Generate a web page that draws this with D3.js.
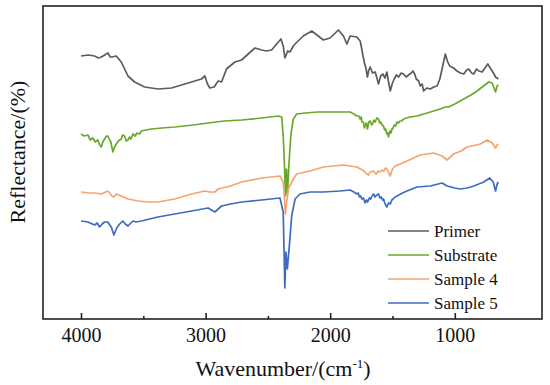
<!DOCTYPE html>
<html>
<head>
    <script src="https://d3js.org/d3.v7.min.js"></script>
    <style>
        body { margin: 0; background: #fff; }
        text { font-family: "Liberation Serif", "Times New Roman", serif; fill: #111; }
    </style>
</head>
<body>
    <svg width="550" height="385"></svg>
    <script>
        // series: [wavenumber (cm-1), reflectance (arbitrary, offset for display)]
        const primer = [[4000,263],[3940,264],[3891,263],[3860,261],[3837,262],[3810,264],[3784,266],[3765,262],[3752,262],[3717,263],
            [3677,257],[3623,243],[3570,237],[3489,232],[3382,230],[3274,231],[3167,235],[3087,238],[3033,240],[3006,243],
            [2985,235],[2966,231],[2932,232],[2899,238],[2872,237],[2832,250],[2765,257],[2711,259],[2658,265],[2604,271],
            [2550,269],[2510,268],[2470,269],[2430,275],[2395,280],[2377,273],[2363,261],[2341,268],[2323,267],[2296,273],
            [2282,275],[2216,283],[2148,288],[2055,279],[2001,281],[1934,289],[1894,283],[1866,275],[1840,283],[1786,282],
            [1759,278],[1727,257],[1712,250],[1701,242],[1690,249],[1679,252],[1660,246],[1639,247],[1625,241],[1612,235],
            [1595,243],[1577,245],[1560,241],[1545,247],[1530,236],[1518,228],[1500,236],[1486,240],[1470,244],[1451,242],
            [1430,246],[1411,245],[1390,242],[1371,244],[1350,246],[1336,248],[1322,245],[1309,240],[1290,238],[1277,233],
            [1262,235],[1250,228],[1225,231],[1196,230],[1170,232],[1142,233],[1120,240],[1102,250],[1076,265],[1060,258],
            [1041,253],[1010,251],[982,248],[955,246],[928,245],[905,249],[888,250],[865,246],[848,245],[825,250],[808,248],
            [780,247],[758,251],[735,255],[715,251],[700,248],[685,245],[673,242],[650,240]];

        const substrate = [[4000,185],[3975,183],[3945,184],[3925,179],[3905,181],[3885,177],[3865,179],[3850,174],[3837,172],[3825,177],
            [3811,180],[3795,183],[3784,183],[3770,179],[3763,178],[3752,172],[3744,167],[3730,172],[3717,175],[3700,178],
            [3677,180],[3665,184],[3650,183],[3637,178],[3623,179],[3610,182],[3600,180],[3583,185],[3565,183],[3550,186],
            [3530,185],[3516,188],[3480,189],[3435,190],[3350,191],[3248,192],[3100,194],[2980,196],[2850,198],[2711,199],
            [2550,201],[2417,203],[2389,202],[2377,183],[2367,155],[2359,123],[2351,150],[2343,125],[2331,155],[2315,185],
            [2296,200],[2269,205],[2200,206],[2100,207],[2000,207],[1900,207],[1840,207],[1810,205],[1786,203],[1770,203],
            [1760,200],[1752,202],[1745,197],[1733,197],[1726,191],[1720,193],[1710,196],[1701,190],[1695,194],[1690,197],
            [1679,198],[1668,194],[1660,195],[1650,199],[1639,197],[1625,201],[1612,200],[1603,196],[1595,197],[1583,194],
            [1572,193],[1563,189],[1555,190],[1545,185],[1540,186],[1532,182],[1526,186],[1520,188],[1512,186],[1504,190],
            [1495,191],[1485,194],[1475,193],[1464,197],[1452,196],[1440,198],[1425,198],[1411,200],[1360,202],[1303,203],
            [1250,205],[1196,207],[1116,210],[1076,212],[1049,212],[1000,215],[928,220],[870,224],[821,228],[770,233],
            [727,237],[700,236],[673,227],[660,233],[650,234]];

        const sample4 = [[4000,127],[3940,126],[3891,126],[3837,125],[3784,128],[3752,123],[3736,122],[3717,125],[3677,123],[3623,120],
            [3543,118],[3460,117],[3382,117],[3248,120],[3113,125],[3006,128],[2966,127],[2926,127],[2899,130],[2800,133],
            [2711,137],[2550,141],[2403,143],[2377,137],[2367,120],[2359,105],[2351,115],[2336,130],[2296,140],[2269,145],
            [2162,148],[2055,152],[1894,154],[1786,152],[1740,149],[1719,147],[1705,145],[1693,144],[1682,147],[1672,147],
            [1652,148],[1640,146],[1630,145],[1615,148],[1599,147],[1585,149],[1570,148],[1555,151],[1545,150],[1530,146],
            [1518,143],[1500,150],[1478,153],[1438,155],[1384,158],[1330,161],[1277,164],[1170,166],[1102,163],[1062,159],
            [1009,165],[950,168],[901,172],[794,175],[740,179],[700,176],[673,171],[660,174],[650,175]];

        const sample5 = [[4000,98],[3945,97],[3891,94],[3870,96],[3851,92],[3830,95],[3811,97],[3784,97],[3770,94],[3757,92],
            [3736,84],[3720,89],[3709,92],[3690,95],[3664,98],[3645,95],[3623,93],[3600,96],[3583,98],[3560,97],
            [3516,98],[3450,100],[3382,102],[3248,105],[3113,108],[2980,111],[2926,107],[2872,113],[2800,115],[2711,117],
            [2550,119],[2403,121],[2377,107],[2364,31],[2355,67],[2344,50],[2328,73],[2309,103],[2282,120],[2242,125],
            [2162,127],[2055,127],[1920,128],[1840,129],[1810,127],[1786,125],[1775,126],[1765,122],[1755,123],[1746,120],
            [1733,121],[1720,116],[1710,119],[1701,117],[1685,121],[1675,120],[1665,123],[1652,125],[1640,122],[1625,124],
            [1612,125],[1600,121],[1590,122],[1580,119],[1572,120],[1562,116],[1555,114],[1545,112],[1532,116],[1518,115],
            [1505,119],[1495,120],[1480,122],[1464,123],[1420,126],[1384,128],[1303,132],[1196,133],[1102,136],[1062,133],
            [1000,131],[955,130],[900,131],[848,133],[767,137],[719,141],[692,137],[673,128],[660,135],[650,137]];

        const seriesNames = ["Primer", "Substrate", "Sample 4", "Sample 5"];
        const seriesColors = ["#5c5c5c", "#6aa82c", "#f5a46e", "#3d6cc0"];
        const majorTicks = [4000, 3000, 2000, 1000];
        const minorTicks = [3500, 2500, 1500];

        const allSeries = [primer, substrate, sample4, sample5];

        const plotLeft = 43, plotRight = 542, plotTop = 6, plotBottom = 319;
        const svg = d3.select("svg");

        const x = d3.scaleLinear().domain([4305, 300]).range([plotLeft, plotRight]);
        const y = d3.scaleLinear().domain([0, 313]).range([plotBottom, plotTop]);

        const line = d3.line()
            .x(d => x(d[0]))
            .y(d => y(d[1]));

        // curves
        svg.selectAll(".curve")
            .data(allSeries)
            .enter().append("path")
            .attr("class", "curve")
            .attr("d", line)
            .attr("fill", "none")
            .attr("stroke", (d, i) => seriesColors[i])
            .attr("stroke-width", 1.7)
            .attr("stroke-linejoin", "round");

        // frame
        svg.append("rect")
            .attr("x", plotLeft).attr("y", plotTop)
            .attr("width", plotRight - plotLeft).attr("height", plotBottom - plotTop)
            .attr("fill", "none")
            .attr("stroke", "#222")
            .attr("stroke-width", 1.6);

        // x axis, ticks pointing inward
        const xAxis = svg.append("g")
            .attr("transform", "translate(0," + plotBottom + ")")
            .call(d3.axisBottom(x).tickValues(majorTicks).tickSize(-6).tickPadding(9).tickFormat(d3.format("d")));
        xAxis.select(".domain").remove();
        xAxis.selectAll(".tick line").attr("stroke", "#222").attr("stroke-width", 1.6);
        xAxis.selectAll("text")
            .style("font-family", '"Liberation Serif", serif')
            .style("font-size", "20px")
            .attr("fill", "#111");

        const xMinor = svg.append("g")
            .attr("transform", "translate(0," + plotBottom + ")")
            .call(d3.axisBottom(x).tickValues(minorTicks).tickSize(-3).tickFormat(""));
        xMinor.select(".domain").remove();
        xMinor.selectAll(".tick line").attr("stroke", "#222").attr("stroke-width", 1.6);

        // axis titles
        const xTitle = svg.append("text")
            .attr("x", 283)
            .attr("y", 376)
            .attr("text-anchor", "middle")
            .style("font-size", "22px");
        xTitle.append("tspan").text("Wavenumber/(cm");
        xTitle.append("tspan").attr("dy", -8).style("font-size", "13px").text("-1");
        xTitle.append("tspan").attr("dy", 8).text(")");

        svg.append("text")
            .attr("transform", "rotate(-90)")
            .attr("x", -152)
            .attr("y", 25)
            .attr("text-anchor", "middle")
            .style("font-size", "22px")
            .text("Reflectance/(%)");

        // legend
        const legend = svg.selectAll(".legend")
            .data(seriesNames)
            .enter().append("g")
            .attr("class", "legend")
            .attr("transform", (d, i) => "translate(0," + (231 + i * 24) + ")");

        legend.append("line")
            .attr("x1", 388).attr("x2", 429)
            .attr("y1", 0).attr("y2", 0)
            .attr("stroke", (d, i) => seriesColors[i])
            .attr("stroke-width", 1.6);

        legend.append("text")
            .attr("x", 434)
            .attr("y", 0)
            .attr("dy", "0.35em")
            .style("font-size", "17px")
            .text(d => d);
    </script>
</body>
</html>
